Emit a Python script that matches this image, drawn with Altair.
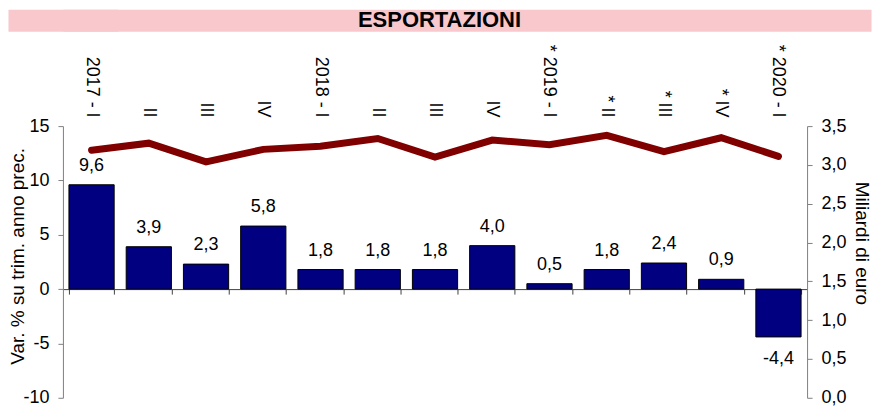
import json
import altair as alt
import pandas as pd

# ---------------- data ----------------
periods = ["2017-1", "2017-2", "2017-3", "2017-4", "2018-1", "2018-2", "2018-3",
           "2018-4", "2019-1", "2019-2", "2019-3", "2019-4", "2020-1"]
period_labels = ["2017 - I", "II", "III", "IV", "2018 - I", "II", "III", "IV",
                 "* 2019 - I", "* II", "* III", "* IV", "* 2020 - I"]
var_pct = [9.6, 3.9, 2.3, 5.8, 1.8, 1.8, 1.8, 4.0, 0.5, 1.8, 2.4, 0.9, -4.4]
billions = [3.19, 3.28, 3.04, 3.20, 3.24, 3.34, 3.10, 3.32, 3.26, 3.38, 3.17, 3.35, 3.11]
left_ticks = [-10, -5, 0, 5, 10, 15]
right_ticks = [0.0, 0.5, 1.0, 1.5, 2.0, 2.5, 3.0, 3.5]
title_text = ["ESPORTAZIONI"]

df = pd.DataFrame({"period": periods, "pct": var_pct, "bn": billions})
df["lab"] = [f"{v:.1f}".replace(".", ",") for v in var_pct]

FONT = "Liberation Sans"
PINK = "#F8C8CC"
label_expr = f"{json.dumps(period_labels)}[indexof({json.dumps(periods)}, datum.value)]"


def xscale():
    return alt.Scale(paddingInner=0.21, paddingOuter=0.105)


def yscale():
    return alt.Scale(domain=[-10, 15], nice=False, zero=False)


base = alt.Chart(df)

bars = base.mark_bar(color="#000080", stroke="#000000", strokeWidth=1).encode(
    x=alt.X("period:N", sort=periods, scale=xscale(),
            axis=alt.Axis(orient="top", title=None, labelAngle=90, labelAlign="right",
                          labelBaseline="middle", labelPadding=9, ticks=False,
                          domain=False, labelOverlap=False, labelExpr=label_expr)),
    y=alt.Y("pct:Q", scale=yscale(),
            axis=alt.Axis(orient="left", title="Var. % su trim. anno prec.",
                          values=left_ticks, labelExpr="datum.value", labelPadding=9,
                          tickSize=5, titleX=-45, titleY=130, titleBaseline="middle",
                          titleAlign="center")),
)

pos = base.transform_filter("datum.pct >= 0").mark_text(
    baseline="alphabetic", dy=-14, fontSize=18, font=FONT, color="#000000"
).encode(
    x=alt.X("period:N", sort=periods, scale=xscale(),
            axis=alt.Axis(orient="bottom", title=None, labels=False, ticks=True,
                          tickSize=5, tickBand="extent", domain=True,
                          domainColor="#404040", tickColor="#404040",
                          offset=-108.8)),
    y=alt.Y("pct:Q", scale=yscale(), axis=None),
    text="lab:N",
)

neg = base.transform_filter("datum.pct < 0").mark_text(
    baseline="top", dy=13, fontSize=18, font=FONT, color="#000000"
).encode(
    x=alt.X("period:N", sort=periods, scale=xscale(), axis=None),
    y=alt.Y("pct:Q", scale=yscale(), axis=None),
    text="lab:N",
)

line = base.mark_line(color="#800000", strokeWidth=7, strokeCap="round").encode(
    x=alt.X("period:N", sort=periods, scale=xscale(), axis=None),
    y=alt.Y("bn:Q", scale=alt.Scale(domain=[0, 3.5], nice=False),
            axis=alt.Axis(orient="right", title="Miliardi di euro", values=right_ticks,
                          labelExpr="replace(format(datum.value, '.1f'), '.', ',')",
                          labelPadding=9, tickSize=5, titleX=54, titleY=117,
                          titleBaseline="middle", titleAlign="center")),
)

main = alt.layer(bars, pos, neg, line).resolve_scale(y="independent").resolve_axis(
    x="independent", y="independent"
).properties(
    width=745, height=272, view=alt.ViewBackground(stroke="transparent")
)

# title band: pink view, extended to the left edge by a wide pink axis domain
title_df = pd.DataFrame({"t": title_text, "v": [0.5]})
top = alt.Chart(title_df).mark_text(
    font=FONT, fontSize=22, fontWeight="bold", color="#000000", baseline="middle"
).encode(
    text="t:N",
    x=alt.value(377),
    y=alt.Y("v:Q", scale=alt.Scale(domain=[0, 1]),
            axis=alt.Axis(title=None, labels=False, ticks=False, domain=True,
                          domainColor=PINK, domainWidth=110)),
).properties(width=809, height=22, view=alt.ViewBackground(fill=PINK, stroke="transparent"))

chart = alt.vconcat(
    top, main, spacing=11,
    padding={"left": 0, "top": 0, "right": 0, "bottom": 0},
    background="white",
).configure(font=FONT).configure_axis(
    labelFont=FONT, labelFontSize=18, labelColor="#000000",
    titleFont=FONT, titleFontSize=19, titleFontWeight="normal", titleColor="#000000",
    domainColor="#808080", tickColor="#808080", grid=False,
)

chart.save("out.html", embed_options={"renderer": "svg", "actions": False})
